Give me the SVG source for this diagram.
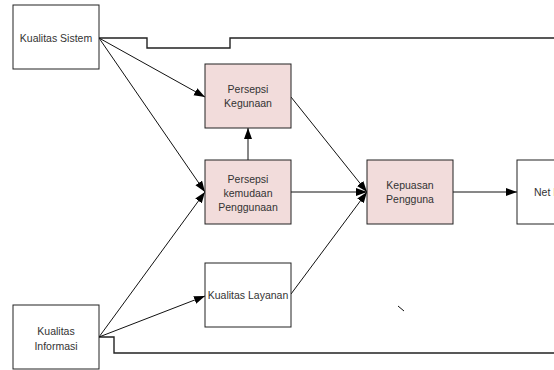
<svg xmlns="http://www.w3.org/2000/svg" width="554" height="370" viewBox="0 0 554 370">
<style>
.box{fill:#ffffff;stroke:#222;stroke-width:1}
.pink{fill:#f2dcdb;stroke:#222;stroke-width:1}
.t{font-family:"Liberation Sans",Arial,sans-serif;font-size:10.5px;fill:#333;text-anchor:middle}
.c{fill:none;stroke:#111;stroke-width:1}
.e{fill:none;stroke:#222;stroke-width:1.4}
</style>
<defs>
<marker id="ah" markerUnits="userSpaceOnUse" markerWidth="12" markerHeight="10" refX="11" refY="4" orient="auto">
<path d="M0,0 L11,4 L0,8 z" fill="#000"/>
</marker>
</defs>
<rect width="554" height="370" fill="#fff"/>
<g id="connectors">
<path class="e" d="M99,38 H147 V48 H230 V38 H554"/>
<path class="e" d="M99,337 H114 V353 H554"/>
<line class="c" x1="99" y1="38" x2="205" y2="97" marker-end="url(#ah)"/>
<line class="c" x1="99" y1="38" x2="205" y2="192" marker-end="url(#ah)"/>
<line class="c" x1="99" y1="337" x2="205" y2="192" marker-end="url(#ah)"/>
<line class="c" x1="99" y1="337" x2="205" y2="296" marker-end="url(#ah)"/>
<line class="c" x1="248" y1="160" x2="248" y2="128" marker-end="url(#ah)"/>
<line class="c" x1="291" y1="97" x2="367" y2="192" marker-end="url(#ah)"/>
<line class="c" x1="291" y1="192" x2="367" y2="192" marker-end="url(#ah)"/>
<line class="c" x1="291" y1="294" x2="367" y2="192" marker-end="url(#ah)"/>
<line class="c" x1="453" y1="192" x2="517" y2="192" marker-end="url(#ah)"/>
<line class="c" x1="398" y1="306" x2="404" y2="311"/>
</g>
<g id="kualitas-sistem">
<rect class="box" x="13" y="5" width="86" height="64"/>
<text class="t" x="56" y="42">Kualitas Sistem</text>
</g>
<g id="persepsi-kegunaan">
<rect class="pink" x="205" y="64" width="86" height="64"/>
<text class="t" x="248" y="93">Persepsi</text>
<text class="t" x="248" y="107">Kegunaan</text>
</g>
<g id="persepsi-kemudaan">
<rect class="pink" x="205" y="160" width="86" height="64"/>
<text class="t" x="248" y="183">Persepsi</text>
<text class="t" x="248" y="197">kemudaan</text>
<text class="t" x="248" y="211">Penggunaan</text>
</g>
<g id="kepuasan-pengguna">
<rect class="pink" x="367" y="160" width="86" height="64"/>
<text class="t" x="410" y="189">Kepuasan</text>
<text class="t" x="410" y="203">Pengguna</text>
</g>
<g id="net-benefit">
<rect class="box" x="517" y="160" width="86" height="64"/>
<text class="t" x="560" y="196">Net Benefit</text>
</g>
<g id="kualitas-layanan">
<rect class="box" x="205" y="263" width="86" height="64"/>
<text class="t" x="248" y="299">Kualitas Layanan</text>
</g>
<g id="kualitas-informasi">
<rect class="box" x="13" y="305" width="86" height="64"/>
<text class="t" x="56" y="335">Kualitas</text>
<text class="t" x="56" y="350">Informasi</text>
</g>
</svg>
